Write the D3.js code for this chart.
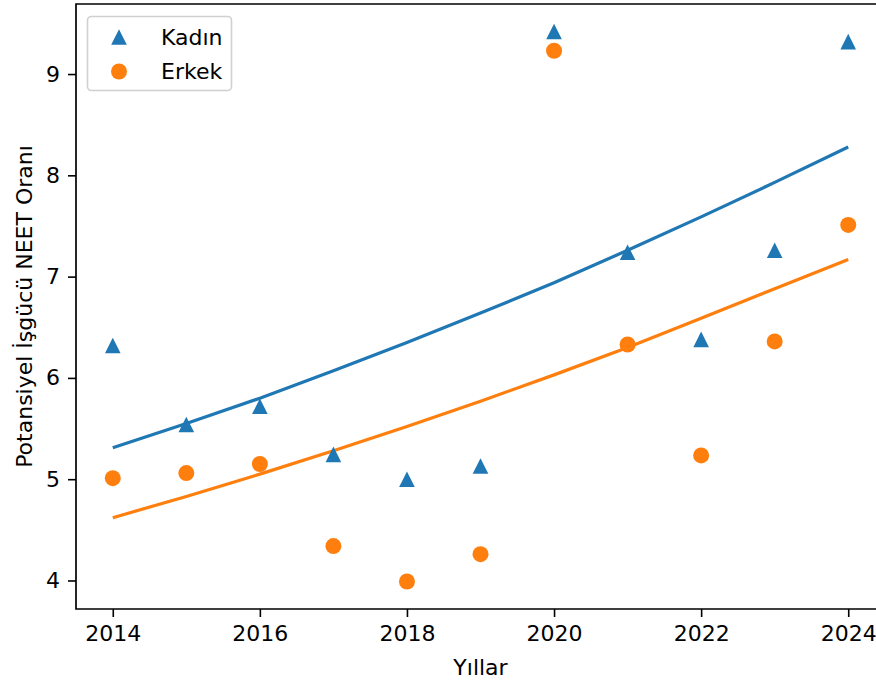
<!DOCTYPE html>
<html>
<head>
<meta charset="utf-8">
<script src="https://cdn.jsdelivr.net/npm/d3@7"></script>
<style>
  body { margin: 0; background: #fff; }
  svg { display: block; font-family: "DejaVu Sans", sans-serif; }
</style>
</head>
<body>
<svg id="chart" width="876" height="682"></svg>
<script>
const years = [2014, 2015, 2016, 2017, 2018, 2019, 2020, 2021, 2022, 2023, 2024];
const kadin = [6.32, 5.54, 5.72, 5.245, 5.0, 5.13, 9.42, 7.24, 6.38, 7.26, 9.32];
const erkek = [5.01, 5.06, 5.15, 4.34, 3.99, 4.26, 9.23, 6.33, 5.235, 6.36, 7.51];
const kadinFit = [5.31, 5.55, 5.80, 6.07, 6.35, 6.64, 6.94, 7.26, 7.59, 7.93, 8.28];
const erkekFit = [4.62, 4.83, 5.05, 5.28, 5.52, 5.77, 6.03, 6.30, 6.59, 6.88, 7.17];
const xTicks = [2014, 2016, 2018, 2020, 2022, 2024];
const yTicks = [4, 5, 6, 7, 8, 9];
const seriesNames = ["Kadın", "Erkek"];
const colors = ["#1f77b4", "#ff7f0e"];

const svg = d3.select("#chart");
const pLeft = 76, pRight = 885, pTop = 4, pBottom = 609;

const x = d3.scaleLinear().domain([2013.5, 2024.5]).range([pLeft, pRight]);
const y = d3.scaleLinear().domain([3.7185, 9.6915]).range([pBottom, pTop]);

const tri = s => `M0,${-s}L${-s},${s}L${s},${s}Z`;

// axes
const xAxis = svg.append("g").attr("transform", `translate(0,${pBottom})`)
  .call(d3.axisBottom(x).tickValues(xTicks).tickFormat(d3.format("d")).tickSize(8).tickPadding(8).tickSizeOuter(0));
const yAxis = svg.append("g").attr("transform", `translate(${pLeft},0)`)
  .call(d3.axisLeft(y).tickValues(yTicks).tickFormat(d3.format("d")).tickSize(8).tickPadding(8).tickSizeOuter(0));
[xAxis, yAxis].forEach(g => {
  g.select(".domain").remove();
  g.selectAll(".tick line").attr("stroke", "#000").attr("stroke-width", 1.6);
  g.selectAll(".tick text").attr("fill", "#000").style("font-size", "22px").style("font-family", "DejaVu Sans");
});

// spines (left, top, bottom; right is outside the view)
svg.append("path")
  .attr("d", `M${pRight},${pTop}H${pLeft}V${pBottom}H${pRight}`)
  .attr("fill", "none").attr("stroke", "#000").attr("stroke-width", 1.7);

// fit lines
const line = d3.line().x((d, i) => x(years[i])).y(d => y(d));
svg.append("path").datum(kadinFit).attr("d", line)
  .attr("fill", "none").attr("stroke", colors[0]).attr("stroke-width", 3.2);
svg.append("path").datum(erkekFit).attr("d", line)
  .attr("fill", "none").attr("stroke", colors[1]).attr("stroke-width", 3.2);

// scatter
svg.append("g").selectAll("path").data(kadin).join("path")
  .attr("transform", (d, i) => `translate(${x(years[i])},${y(d)})`)
  .attr("d", tri(7.8)).attr("fill", colors[0]);
svg.append("g").selectAll("circle").data(erkek).join("circle")
  .attr("cx", (d, i) => x(years[i])).attr("cy", d => y(d))
  .attr("r", 8).attr("fill", colors[1]);

// axis labels
svg.append("text").attr("x", (pLeft + pRight) / 2).attr("y", 675)
  .attr("text-anchor", "middle").style("font-size", "22px").text("Yıllar");
svg.append("text").attr("transform", `translate(32,${(pTop + pBottom) / 2}) rotate(-90)`)
  .attr("text-anchor", "middle").style("font-size", "22px").text("Potansiyel İşgücü NEET Oranı");

// legend
const lg = svg.append("g");
lg.append("rect").attr("x", 87.5).attr("y", 16.5).attr("width", 144).attr("height", 74)
  .attr("rx", 4).attr("fill", "#fff").attr("fill-opacity", 0.8)
  .attr("stroke", "#d0d0d0").attr("stroke-width", 1.6);
lg.append("path").attr("transform", "translate(119,37)").attr("d", tri(7.8)).attr("fill", colors[0]);
lg.append("circle").attr("cx", 119).attr("cy", 71.5).attr("r", 8).attr("fill", colors[1]);
lg.selectAll("text.lbl").data(seriesNames).join("text").attr("class", "lbl")
  .attr("x", 161).attr("y", (d, i) => 45 + i * 34)
  .style("font-size", "22px").text(d => d);
</script>
</body>
</html>
